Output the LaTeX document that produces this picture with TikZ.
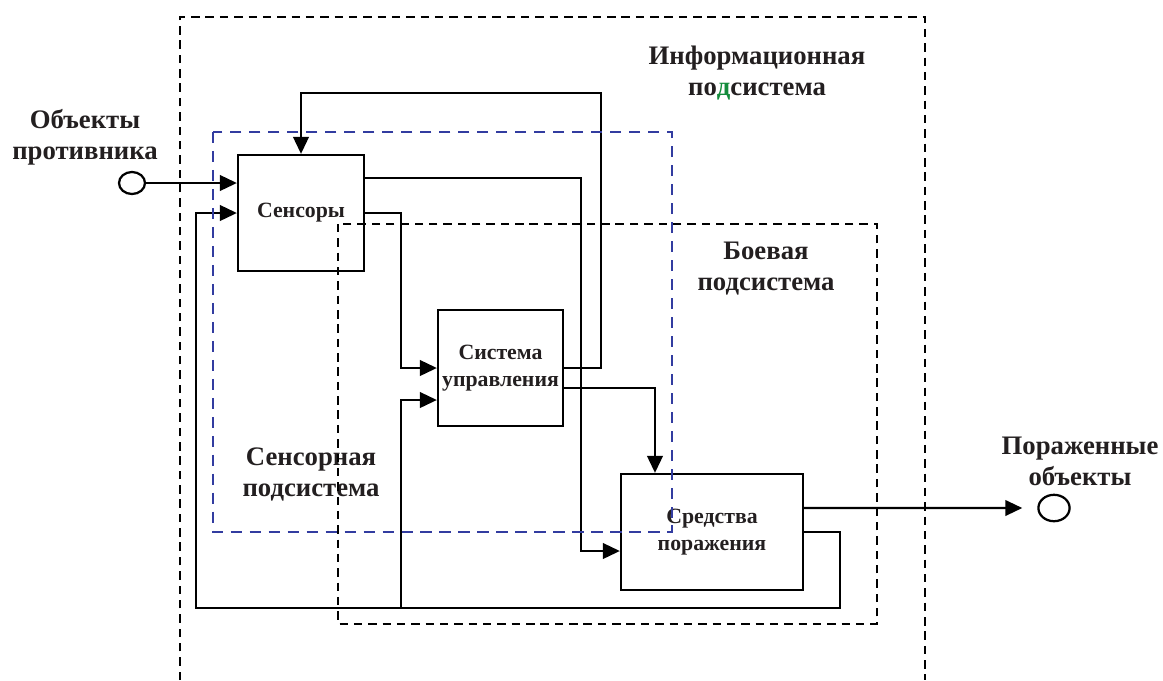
\documentclass[tikz,border=0pt]{standalone}
\usepackage{fontspec}
\setmainfont{Liberation Serif}
\usepackage{xcolor}
\usetikzlibrary{calc,arrows.meta,shapes.geometric}

\definecolor{txtgray}{RGB}{35,31,32}
\definecolor{frameblue}{RGB}{50,60,160}
\definecolor{lettergreen}{RGB}{20,140,60}

\tikzset{
	blok/.style={draw,line width=1.6pt,minimum height=2.9cm,inner sep=0pt,align=center,
		text=txtgray,font=\fontsize{15.5}{19}\selectfont\bfseries},
	lbl/.style={align=center,inner sep=0pt,text=txtgray,font=\fontsize{19}{22}\selectfont\bfseries},
	obj/.style={draw,ellipse,line width=1.6pt,inner sep=0pt},
	arr/.style={line width=1.6pt,-{Triangle[length=12pt,width=11pt]}},
	blkdash/.style={line width=1.8pt,dash pattern=on 6pt off 4.2pt},
	bludash/.style={line width=1.8pt,frameblue,dash pattern=on 8pt off 5.5pt}
}

\begin{document}
\begin{tikzpicture}[x=0.025cm,y=-0.025cm]
				\useasboundingbox (0,0) rectangle (1163,680);
				
				% labels
				\node[lbl] (enemy) at (85,137) {Объекты\\противника};
				\node[lbl] (info) at (757,73) {Информационная\\по{\color{lettergreen}д}система};
				\node[lbl] (combat) at (766,269) {Боевая\\подсистема};
				\node[lbl] (sensub) at (311,474) {Сенсорная\\подсистема};
				\node[lbl] (hit) at (1080,461) {Пораженные\\объекты};
				
				% blocks
				\node[blok,minimum width=3.15cm] (sens) at (301,213) {Сенсоры};
				\node[blok,minimum width=3.125cm] (ctrl) at (500.5,368) {Система\\управления};
				\node[blok,minimum width=4.55cm] (dmg) at (712,532) {Средства\\поражения};
				\node[obj,minimum width=0.65cm,minimum height=0.55cm] (inobj) at (132,183) {};
				\node[obj,minimum width=0.78cm,minimum height=0.66cm] (outobj) at (1054,508) {};
				
				\coordinate (loop) at (601,93);
				\coordinate (s2d) at (581,551);
				\coordinate (s2c) at (401,368);
				\coordinate (fbR) at (840,608);
				\coordinate (fbL) at (196,608);
				\coordinate (fbM) at (401,608);
				
				% connectors
				\draw[arr] (inobj.east) -- (inobj -| sens.west);
				\draw[arr] (ctrl.east) -| (loop) -| (sens.north);
				\draw[arr] ([yshift=0.875cm]sens.east) -| (s2d) -- (s2d -| dmg.west);
				\draw[arr] (sens.east) -| (s2c) -- (ctrl.west);
				\draw[arr] ([yshift=-0.5cm]ctrl.east) -| ([xshift=-1.425cm]dmg.north);
				\draw[arr] (dmg.east) -| (fbR) -- (fbL) |- (sens.west);
				\draw[arr] (fbM) |- ([yshift=-0.8cm]ctrl.west);
				\draw[arr] ([yshift=0.6cm]dmg.east) -- ([xshift=-0.375cm]outobj.west);
				
				% subsystem frames
				\draw[blkdash] (180,680) -- (180,17) -- (925,17) -- (925,680);
				\draw[bludash] (213,132) rectangle (672,532);
				\draw[blkdash] (338,224) rectangle (877,624);
\end{tikzpicture}
\end{document}
